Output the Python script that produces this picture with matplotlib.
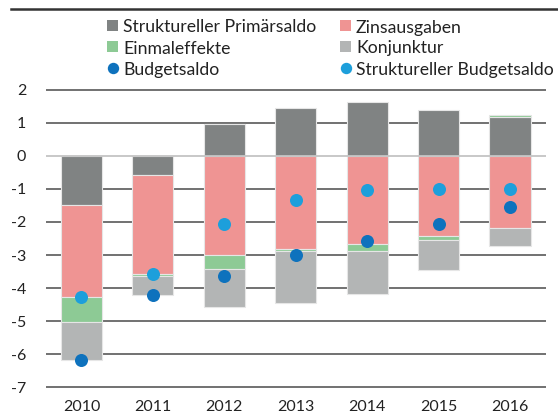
import matplotlib
matplotlib.use("Agg")
import matplotlib.pyplot as plt
from matplotlib.patches import Rectangle
from matplotlib.lines import Line2D
import numpy as np

plt.rcParams['font.family'] = ['Lato', 'DejaVu Sans']

years = ["2010", "2011", "2012", "2013", "2014", "2015", "2016"]
struct_primary = [-1.50, -0.58, 0.95, 1.45, 1.62, 1.38, 1.19]
zins = [-2.77, -2.98, -3.01, -2.81, -2.66, -2.41, -2.17]
einmal = [-0.75, -0.07, -0.40, -0.06, -0.21, -0.14, 0.04]
konjunktur = [-1.14, -0.59, -1.16, -1.58, -1.32, -0.90, -0.57]
budgetsaldo = [-6.16, -4.21, -3.64, -3.00, -2.57, -2.06, -1.54]
struct_budget = [-4.26, -3.56, -2.06, -1.34, -1.03, -1.00, -1.00]

c_sp = "#808383"
c_zins = "#ef9493"
c_ein = "#8dca95"
c_konj = "#b3b5b5"
c_bud = "#0e72bd"
c_sbud = "#1d9fdb"

W, H = 558, 419
fig = plt.figure(figsize=(W / 100, H / 100), dpi=100)
ax = fig.add_axes([0.082, 0.0717, 0.896, 0.7181])

x = np.arange(len(years))
w = 0.575
pos = np.zeros(len(years))
neg = np.zeros(len(years))
for vals, col in [(struct_primary, c_sp), (zins, c_zins), (einmal, c_ein), (konjunktur, c_konj)]:
    v = np.array(vals)
    bottom = np.where(v >= 0, pos, neg)
    ax.bar(x, v, w, bottom=bottom, color=col, edgecolor="#e6e6e6", linewidth=0.8, zorder=2)
    pos = pos + np.where(v >= 0, v, 0)
    neg = neg + np.where(v < 0, v, 0)

ax.scatter(x, budgetsaldo, s=88, color=c_bud, zorder=4, linewidths=0)
ax.scatter(x, struct_budget, s=88, color=c_sbud, zorder=4, linewidths=0)

ax.set_xlim(-0.5, 6.5)
ax.set_ylim(-7.05, 2.05)
yt = list(range(-7, 3))
ax.set_yticks(yt)
ax.set_yticklabels([str(t) for t in yt])
for t in yt:
    if t == 0:
        ax.axhline(t, color="#c4c4c4", linewidth=1.3, zorder=3)
    else:
        ax.axhline(t, color="#4a4a4a", linewidth=1.1, zorder=1)
ax.set_xticks(x)
ax.set_xticklabels(years)
for s in ax.spines.values():
    s.set_visible(False)
ax.tick_params(axis='both', length=0, labelsize=11.5, colors="#222222")
ax.tick_params(axis='y', pad=14)
ax.tick_params(axis='x', pad=8)

# legend drawn manually (two columns, three rows)
legend_items = [
    ("Struktureller Primärsaldo", c_sp, "sq", 0, 0),
    ("Zinsausgaben", c_zins, "sq", 1, 0),
    ("Einmaleffekte", c_ein, "sq", 0, 1),
    ("Konjunktur", c_konj, "sq", 1, 1),
    ("Budgetsaldo", c_bud, "dot", 0, 2),
    ("Struktureller Budgetsaldo", c_sbud, "dot", 1, 2),
]
col_marker_x = [107, 340]
col_text_x = [123, 356]
row_y = [26, 47, 68]
sq = 11

renderer = fig.canvas.get_renderer()
scales = []
for txt, target in [("Struktureller Primärsaldo", 198), ("Struktureller Budgetsaldo", 198)]:
    probe = fig.text(0, 0, txt, fontsize=12)
    scales.append(target / probe.get_window_extent(renderer).width)
    probe.remove()
fs = 12 * min(scales)

for label, col, kind, c, r in legend_items:
    yc = H - row_y[r]
    if kind == "sq":
        fig.add_artist(Rectangle(((col_marker_x[c]) / W, (yc - sq / 2) / H), sq / W, sq / H,
                                 transform=fig.transFigure, color=col, linewidth=0))
    else:
        fig.add_artist(Line2D([(col_marker_x[c] + sq / 2) / W], [yc / H], marker='o', color='none',
                              markerfacecolor=col, markeredgewidth=0, markersize=8.2,
                              transform=fig.transFigure))
    fig.text(col_text_x[c] / W, yc / H, label, fontsize=fs, color="#222222",
             ha='left', va='center_baseline')

fig.add_artist(Line2D([0.02, 1.0], [1 - 9.5 / H, 1 - 9.5 / H], color="#333333", linewidth=1.8))

fig.savefig("out.png", dpi=100)
